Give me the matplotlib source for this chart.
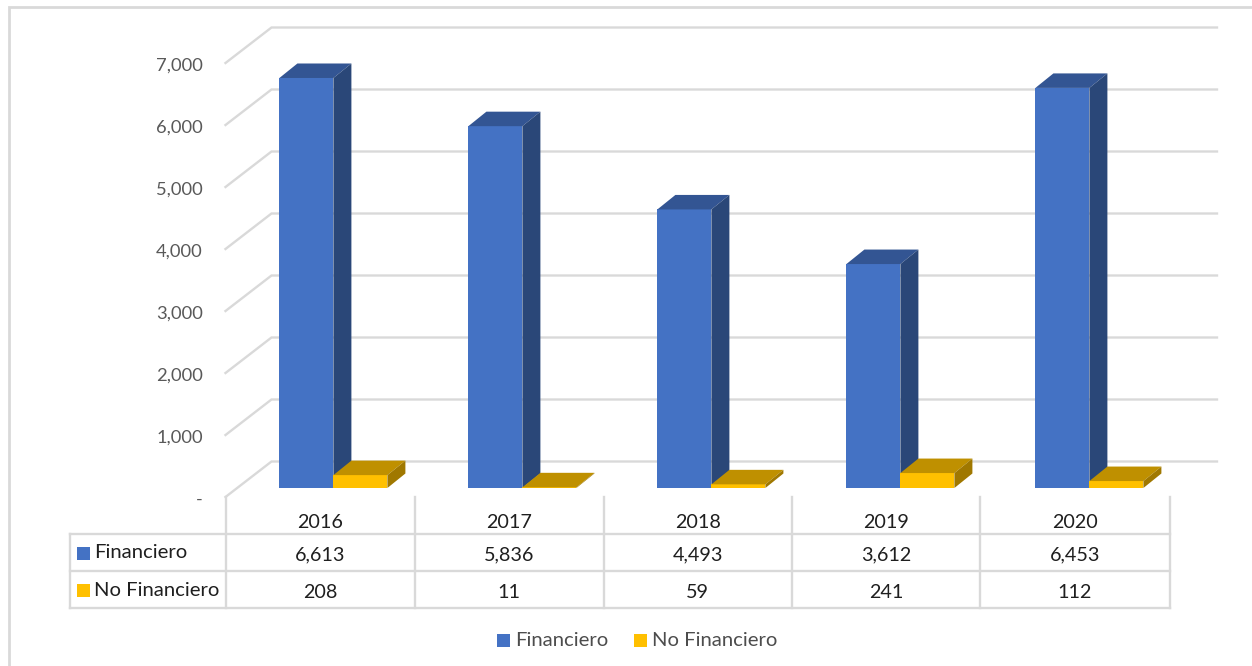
import matplotlib
matplotlib.use("Agg")
import matplotlib.pyplot as plt
from matplotlib.patches import Polygon, Rectangle

plt.rcParams['font.family'] = ['Lato', 'DejaVu Sans']

years = ['2016', '2017', '2018', '2019', '2020']
financiero = [6613, 5836, 4493, 3612, 6453]
no_financiero = [208, 11, 59, 241, 112]
y_ticks = [0, 1000, 2000, 3000, 4000, 5000, 6000, 7000]
y_labels = ['-', '1,000', '2,000', '3,000', '4,000', '5,000', '6,000', '7,000']
series_names = ['Financiero', 'No Financiero']

W, H = 1252, 666
GRID = '#d9d9d9'
FRONT = ['#4472C4', '#FFC000']
TOP = ['#335593', '#BF9000']
SIDE = ['#2A4778', '#A07800']

fig = plt.figure(figsize=(W / 100, H / 100), dpi=100, facecolor='white')

# layout overlay, in image pixels
lay = fig.add_axes([0, 0, 1, 1], zorder=2)
lay.set_xlim(0, W)
lay.set_ylim(H, 0)
lay.axis('off')
lay.patch.set_alpha(0)

# chart scales: one x unit is one category, y in data units
PX_X = 189.0
PX_Y = 0.062
X0, Y0 = 333.4, 488.0
ax = fig.add_axes([0, 0, 1, 1], zorder=1)
ax.set_xlim((0 - X0) / PX_X, (W - X0) / PX_X)
ax.set_ylim((Y0 - H) / PX_Y, Y0 / PX_Y)
ax.axis('off')

bar_w = 54 / PX_X
dx = 18 / PX_X
dy = 14.5 / PX_Y
wall_left = (225.5 - X0) / PX_X
wall_depth_x = 46 / PX_X
wall_right = (1217 - X0) / PX_X
floor = -9 / PX_Y
wall_depth_y = 35.5 / PX_Y

# gridlines on the wall and side wall
for v, lab in zip(y_ticks, y_labels):
    ax.plot([wall_left, wall_left + wall_depth_x, wall_right],
            [floor + v, floor + v + wall_depth_y, floor + v + wall_depth_y],
            color=GRID, lw=1.7, zorder=1, solid_joinstyle='miter')
    ax.text((203 - X0) / PX_X, floor + v - 2.5 / PX_Y, lab, ha='right', va='center',
            color='#595959', fontsize=13.2, zorder=2)


def box(x, val, k):
    ax.add_patch(Polygon([(x, 0), (x + bar_w, 0), (x + bar_w, val), (x, val)],
                         closed=True, fc=FRONT[k], ec='none', zorder=3))
    ax.add_patch(Polygon([(x, val), (x + bar_w, val), (x + bar_w + dx, val + dy), (x + dx, val + dy)],
                         closed=True, fc=TOP[k], ec='none', zorder=3))
    ax.add_patch(Polygon([(x + bar_w, 0), (x + bar_w + dx, dy), (x + bar_w + dx, val + dy), (x + bar_w, val)],
                         closed=True, fc=SIDE[k], ec='none', zorder=3))


for i in range(len(years)):
    box(i - bar_w, financiero[i], 0)
for i in range(len(years)):
    box(i, no_financiero[i], 1)

# outer frame
lay.plot([9, 9, W], [H, 6.5, 6.5], color=GRID, lw=2, solid_joinstyle='miter')

# data table
col_edges = [225.5, 415, 603.5, 792, 980, 1169.5]
row_edges = [497, 534, 571, 608]
for x in col_edges:
    lay.plot([x, x], [row_edges[0], row_edges[-1]], color=GRID, lw=1.7)
lay.plot([69.5, 69.5], [row_edges[1], row_edges[-1]], color=GRID, lw=1.7)
for y in row_edges[1:]:
    lay.plot([69.5, col_edges[-1]], [y, y], color=GRID, lw=1.7)

TABLE_TXT = '#1f1f1f'
TABLE_FS = 14.2
LABEL_FS = 14.6
for j, yr in enumerate(years):
    cx = (col_edges[j] + col_edges[j + 1]) / 2
    lay.text(cx, 522, yr, ha='center', va='center', color=TABLE_TXT, fontsize=TABLE_FS)
    lay.text(cx, 555, f'{financiero[j]:,}', ha='center', va='center', color=TABLE_TXT, fontsize=TABLE_FS)
    lay.text(cx, 592, f'{no_financiero[j]:,}', ha='center', va='center', color=TABLE_TXT, fontsize=TABLE_FS)

for k, (name, yc) in enumerate(zip(series_names, [553, 590.5])):
    lay.add_patch(Rectangle((76.5, yc - 6.5), 13.5, 13, fc=FRONT[k], ec='none'))
    lay.text(94.5, yc, name, ha='left', va='center', color=TABLE_TXT, fontsize=LABEL_FS)

# bottom legend
for k, (name, kx, tx) in enumerate(zip(series_names, [497, 634], [515.5, 651.5])):
    lay.add_patch(Rectangle((kx, 633.5), 13, 13, fc=FRONT[k], ec='none'))
    lay.text(tx, 640.5, name, ha='left', va='center', color='#4d4d4d', fontsize=LABEL_FS)

fig.savefig('out.png', dpi=100, facecolor='white')
